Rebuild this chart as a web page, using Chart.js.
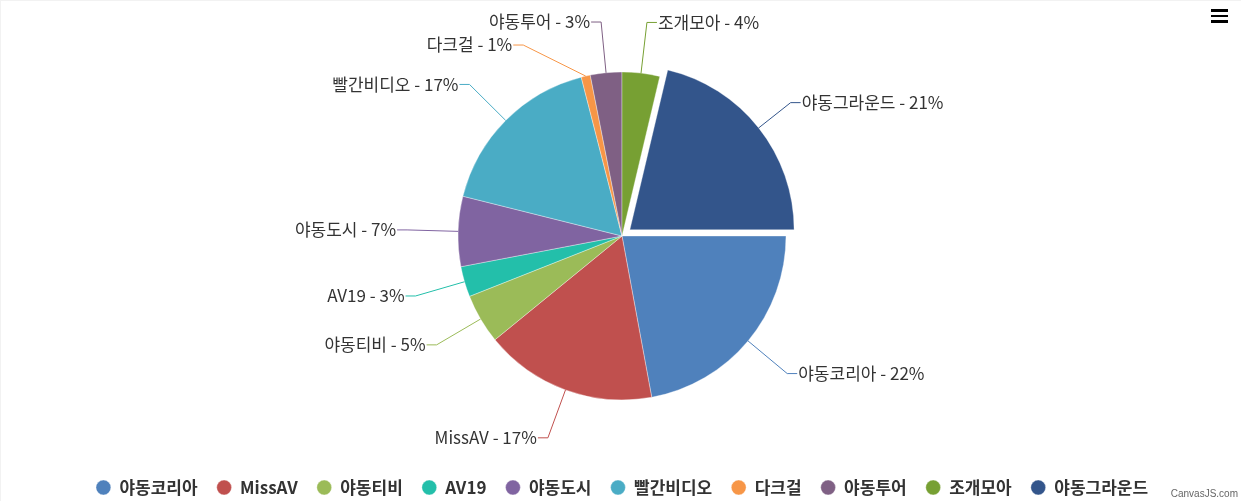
<!DOCTYPE html>
<html>
<head>
<meta charset="utf-8">
<script src="https://cdn.jsdelivr.net/npm/chart.js@4.4.1/dist/chart.umd.min.js"></script>
<style>
html, body { margin: 0; padding: 0; background: #fff; }
#wrap { position: relative; width: 1241px; height: 501px; overflow: hidden; }
#c { position: absolute; left: 0; top: 0; }
#frame { position: absolute; left: 0; top: 0; width: 1241px; height: 501px; box-sizing: border-box;
  border-top: 1px solid #f2f2f2; border-left: 1px solid #f2f2f2; pointer-events: none; }
#menu { position: absolute; left: 1211px; top: 9px; width: 17px; height: 14px; }
#menu span { display: block; height: 2.5px; background: #000; margin-bottom: 3px; }
#credit { position: absolute; right: 3px; top: 488px; font: 10px "Liberation Sans", Arial, sans-serif; color: #666; }
</style>
</head>
<body>
<div id="wrap">
  <canvas id="c" width="1241" height="506"></canvas>
  <div id="frame"></div>
  <div id="menu"><span></span><span></span><span></span></div>
  <div id="credit">CanvasJS.com</div>
</div>
<script>
const categories = ["야동코리아", "MissAV", "야동티비", "AV19", "야동도시", "빨간비디오", "다크걸", "야동투어", "조개모아", "야동그라운드"];
const values = [22.1, 17.0, 4.9, 3.0, 6.9, 17.1, 0.9, 3.1, 3.7, 21.3];
const colors = ["#4F81BC", "#C0504E", "#9BBB58", "#23BFAA", "#8064A1", "#4AACC5", "#F79647", "#7F6084", "#77A033", "#33558B"];
const explodedIndex = 9;

const FONT = '"Noto Sans CJK KR", "Noto Sans", sans-serif';
const LABEL_SIZE = 17;
const GAP = 23;
const EXPLODE = 10; // pixels

const outLabels = {
  id: 'outLabels',
  afterDatasetsDraw(chart) {
    const meta = chart.getDatasetMeta(0);
    const ctx = chart.ctx;
    const total = values.reduce((a, b) => a + b, 0);
    const items = [];
    meta.data.forEach((arc, i) => {
      const p = arc.getProps(['x', 'y', 'startAngle', 'endAngle', 'outerRadius'], true);
      const mid = (p.startAngle + p.endAngle) / 2;
      const off = (arc.options.offset || 0) / 4;
      const RL = p.outerRadius + 51;
      items.push({
        i, mid, cx: p.x, cy: p.y, RL,
        ex: p.x + Math.cos(mid) * (p.outerRadius + off),
        ey: p.y + Math.sin(mid) * (p.outerRadius + off),
        right: Math.cos(mid) >= 0,
        y: p.y + Math.sin(mid) * RL
      });
    });
    [true, false].forEach(side => {
      const g = items.filter(it => it.right === side).sort((a, b) => a.y - b.y);
      for (let k = 1; k < g.length; k++) {
        if (g[k].y < g[k - 1].y + GAP) g[k].y = g[k - 1].y + GAP;
      }
    });
    ctx.save();
    ctx.font = LABEL_SIZE + 'px ' + FONT;
    ctx.textBaseline = 'middle';
    items.forEach(it => {
      let dy = Math.max(-it.RL, Math.min(it.RL, it.y - it.cy));
      const dx = Math.sqrt(Math.max(it.RL * it.RL - dy * dy, 0));
      const ax = it.cx + (it.right ? dx : -dx);
      const ay = it.cy + dy;
      const hx = ax + (it.right ? 10 : -10);
      ctx.strokeStyle = colors[it.i];
      ctx.lineWidth = 1;
      ctx.beginPath();
      ctx.moveTo(it.ex, it.ey);
      ctx.lineTo(ax, ay);
      ctx.lineTo(hx, ay);
      ctx.stroke();
      const pct = Math.round(values[it.i] / total * 100);
      const text = categories[it.i] + ' - ' + pct + '%';
      ctx.fillStyle = '#333';
      ctx.textAlign = it.right ? 'left' : 'right';
      ctx.fillText(text, hx + (it.right ? 1 : -1), ay);
    });
    ctx.restore();
  }
};

new Chart(document.getElementById('c'), {
  type: 'pie',
  data: {
    labels: categories,
    datasets: [{
      data: values,
      backgroundColor: colors,
      borderColor: 'rgba(255,255,255,0.35)',
      borderWidth: 1,
      offset: categories.map((_, i) => i === explodedIndex ? EXPLODE * 4 : 0)
    }]
  },
  options: {
    responsive: false,
    animation: false,
    devicePixelRatio: 1,
    rotation: 90,
    radius: 164,
    layout: { padding: { top: 12, left: 3, right: 0, bottom: 0 } },
    plugins: {
      tooltip: { enabled: false },
      legend: {
        position: 'bottom',
        labels: {
          usePointStyle: true,
          pointStyle: 'circle',
          boxWidth: 15,
          boxHeight: 10.5,
          padding: 19,
          color: '#333',
          font: { family: FONT, size: 17, weight: 'bold' }
        }
      }
    }
  },
  plugins: [outLabels]
});
</script>
</body>
</html>
